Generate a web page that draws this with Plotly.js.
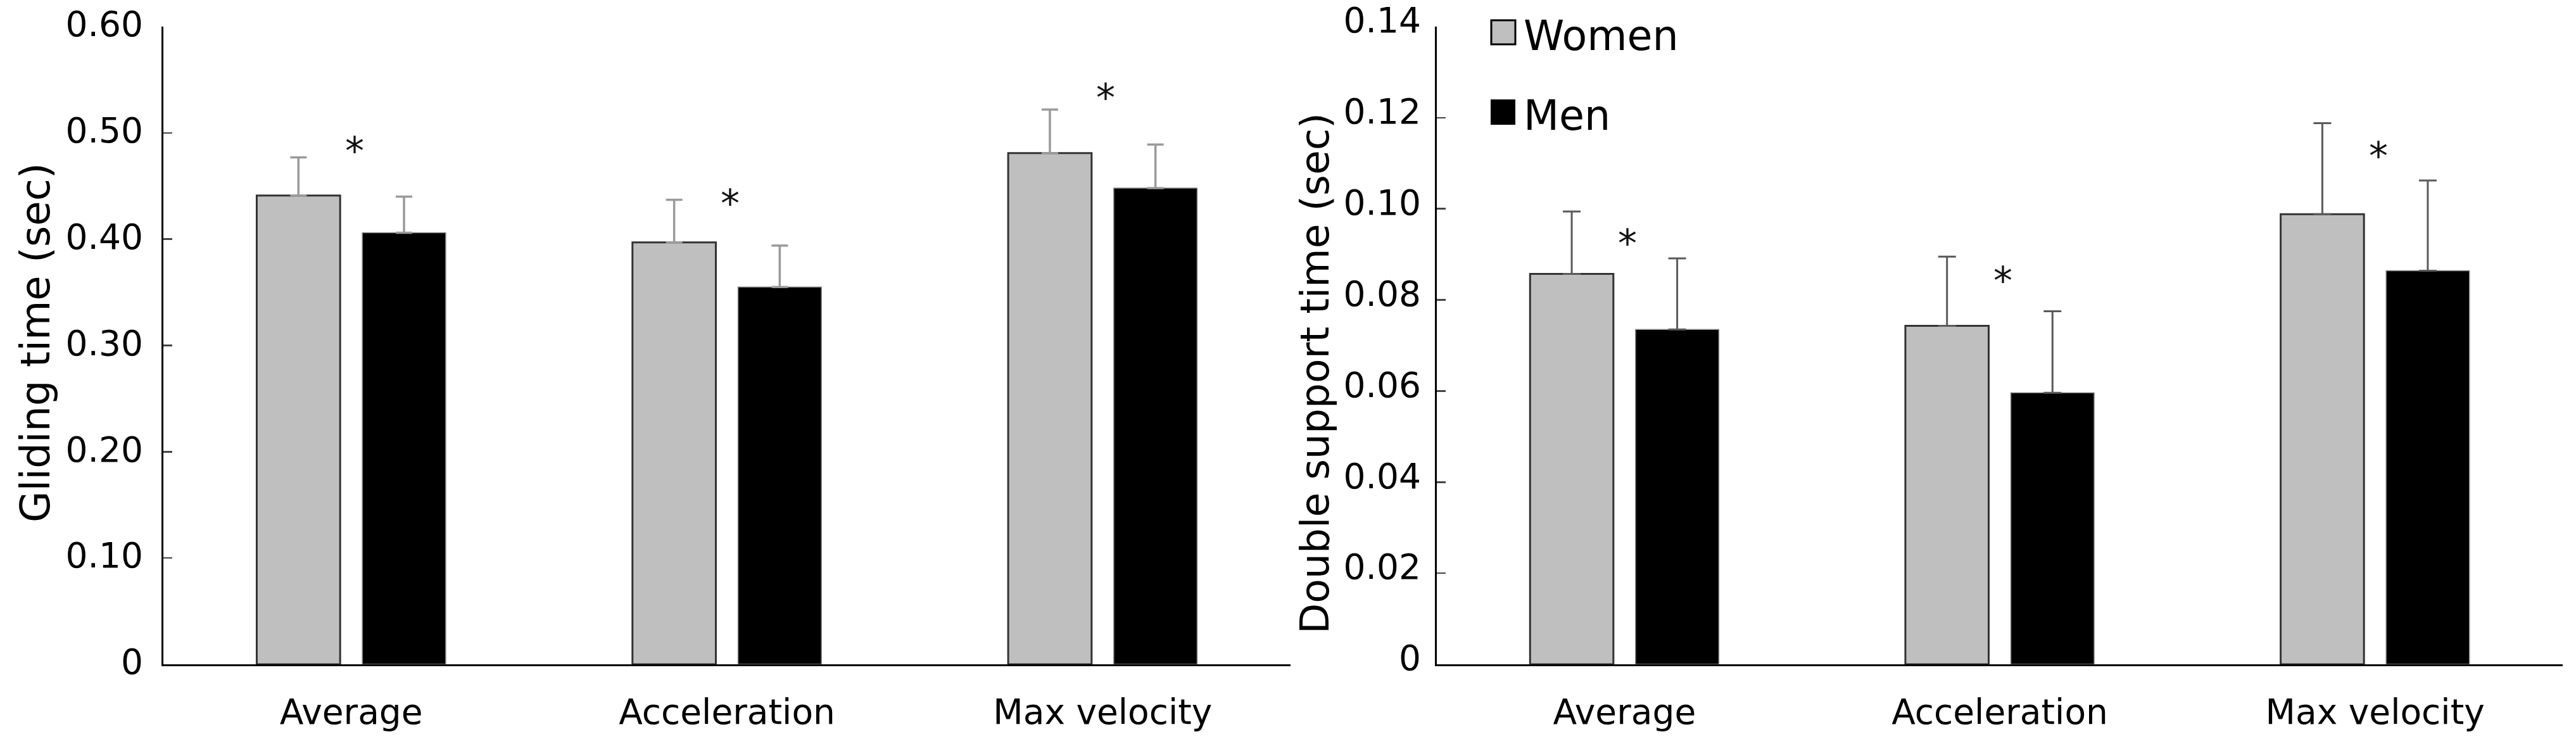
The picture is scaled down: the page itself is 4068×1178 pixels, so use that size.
<!DOCTYPE html>
<html><head><meta charset="utf-8">
<script src="https://cdn.plot.ly/plotly-3.0.1.min.js"></script>
<style>html,body{margin:0;padding:0;background:#fff}</style>
</head><body><div id="chart" style="width:4068px;height:1178px"></div>
<script>
// ---- data ----
const categories = ['Average', 'Acceleration', 'Max velocity'];
const seriesNames = ['Women', 'Men'];

const glideWomen   = [0.441, 0.397, 0.481];
const glideWomenSD = [0.036, 0.040, 0.041];
const glideMen     = [0.406, 0.355, 0.448];
const glideMenSD   = [0.034, 0.039, 0.041];
const glideStar    = [0.483, 0.434, 0.533];

const dsWomen   = [0.0857, 0.0743, 0.0988];
const dsWomenSD = [0.0137, 0.0152, 0.0200];
const dsMen     = [0.0735, 0.0596, 0.0864];
const dsMenSD   = [0.0156, 0.0179, 0.0198];
const dsStar    = [0.0925, 0.0842, 0.1116];

const glideTicks    = [0, 0.1, 0.2, 0.3, 0.4, 0.5, 0.6];
const glideTickText = ['0', '0.10', '0.20', '0.30', '0.40', '0.50', '0.60'];
const dsTicks       = [0, 0.02, 0.04, 0.06, 0.08, 0.10, 0.12, 0.14];
const dsTickText    = ['0', '0.02', '0.04', '0.06', '0.08', '0.10', '0.12', '0.14'];

const yTitleLeft  = 'Gliding time (sec)';
const yTitleRight = 'Double support time (sec)';

// ---- styles ----
const FONT = 'DejaVu Sans, Verdana, sans-serif';
const womenFill = '#bfbfbf', menFill = '#000000';
const zeros = n => new Array(n).fill(0);

function barTrace(name, y, sd, fill, lineColor, lineW, errColor, errThick, errW, xa, ya) {
  return {
    type: 'bar', name: name, x: categories, y: y, xaxis: xa, yaxis: ya,
    marker: {color: fill, line: {color: lineColor, width: lineW}},
    error_y: {type: 'data', array: sd, arrayminus: zeros(sd.length), symmetric: false,
              color: errColor, thickness: errThick, width: errW},
    showlegend: false, hoverinfo: 'skip'
  };
}

const data = [
  barTrace(seriesNames[0], glideWomen, glideWomenSD, womenFill, '#333333', 3, '#9a9a9a', 3.5, 13, 'x', 'y'),
  barTrace(seriesNames[1], glideMen, glideMenSD, menFill, '#8a8a8a', 1.5, '#9a9a9a', 3.5, 13, 'x', 'y'),
  barTrace(seriesNames[0], dsWomen, dsWomenSD, womenFill, '#333333', 3, '#5a5a5a', 3, 14, 'x2', 'y2'),
  barTrace(seriesNames[1], dsMen, dsMenSD, menFill, '#8a8a8a', 1.5, '#5a5a5a', 3, 14, 'x2', 'y2')
];

const W = 4068, H = 1178;
const mT = 42, mB = 129;
const plotH = H - mT - mB;
const px = v => v / W;
const py = v => (H - mB - v) / plotH;

const xCommon = {
  type: 'category', range: [-0.5, 2.5], showline: true, linecolor: '#000', linewidth: 3,
  ticks: '', showgrid: false, zeroline: false,
  tickfont: {family: FONT, size: 55, color: '#000'}, ticklabelstandoff: 25, fixedrange: true
};
const yCommon = {
  showline: true, linecolor: '#000', linewidth: 3, ticks: 'inside', ticklen: 14,
  tickwidth: 2.5, tickcolor: '#444', showgrid: false, zeroline: false,
  tickfont: {family: FONT, size: 55, color: '#000'}, fixedrange: true
};

const starAnn = (cat, y, xa, ya) => ({
  x: cat, y: y, xref: xa, yref: ya, text: '*', showarrow: false, xshift: 5,
  font: {family: FONT, size: 60, color: '#111'}, yanchor: 'middle'
});

const annotations = [];
categories.forEach((c, i) => {
  annotations.push(starAnn(c, glideStar[i], 'x', 'y'));
  annotations.push(starAnn(c, dsStar[i], 'x2', 'y2'));
});
// axis titles
annotations.push({xref: 'paper', yref: 'paper', x: px(56), y: py(541), xanchor: 'center', yanchor: 'middle',
  textangle: -90, text: yTitleLeft, showarrow: false, font: {family: FONT, size: 64, color: '#000'}});
annotations.push({xref: 'paper', yref: 'paper', x: px(2076), y: py(590), xanchor: 'center', yanchor: 'middle',
  textangle: -90, text: yTitleRight, showarrow: false, font: {family: FONT, size: 63, color: '#000'}});
// legend labels
annotations.push({xref: 'paper', yref: 'paper', x: px(2404), y: py(56), xanchor: 'left', yanchor: 'middle',
  text: seriesNames[0], showarrow: false, font: {family: FONT, size: 65, color: '#000'}});
annotations.push({xref: 'paper', yref: 'paper', x: px(2404), y: py(182), xanchor: 'left', yanchor: 'middle',
  text: seriesNames[1], showarrow: false, font: {family: FONT, size: 65, color: '#000'}});

const shapes = [
  {type: 'rect', xref: 'paper', yref: 'paper', x0: px(2355), x1: px(2393), y0: py(70), y1: py(32),
   fillcolor: womenFill, line: {color: '#000', width: 3}},
  {type: 'rect', xref: 'paper', yref: 'paper', x0: px(2354), x1: px(2393), y0: py(197), y1: py(157),
   fillcolor: menFill, line: {color: '#000', width: 0}}
];

const layout = {
  width: W, height: H,
  margin: {l: 0, r: 0, t: mT, b: mB, pad: 0},
  paper_bgcolor: '#fff', plot_bgcolor: '#fff',
  barmode: 'group', bargap: 0.438, bargroupgap: 0.21,
  showlegend: false,
  xaxis: Object.assign({}, xCommon, {domain: [px(258), px(2038)], anchor: 'y'}),
  xaxis2: Object.assign({}, xCommon, {domain: [px(2269), px(4047)], anchor: 'y2'}),
  yaxis: Object.assign({}, yCommon, {
    range: [0, 0.6], tickvals: glideTicks, ticktext: glideTickText, anchor: 'x',
    ticklabelstandoff: 18, ticklabelshift: -4
  }),
  yaxis2: Object.assign({}, yCommon, {
    range: [0, 0.14], tickvals: dsTicks, ticktext: dsTickText, anchor: 'x2',
    ticklabelstandoff: 11, ticklabelshift: -10
  }),
  annotations: annotations,
  shapes: shapes
};

Plotly.newPlot('chart', data, layout, {displayModeBar: false, staticPlot: true});
</script>
</body></html>
